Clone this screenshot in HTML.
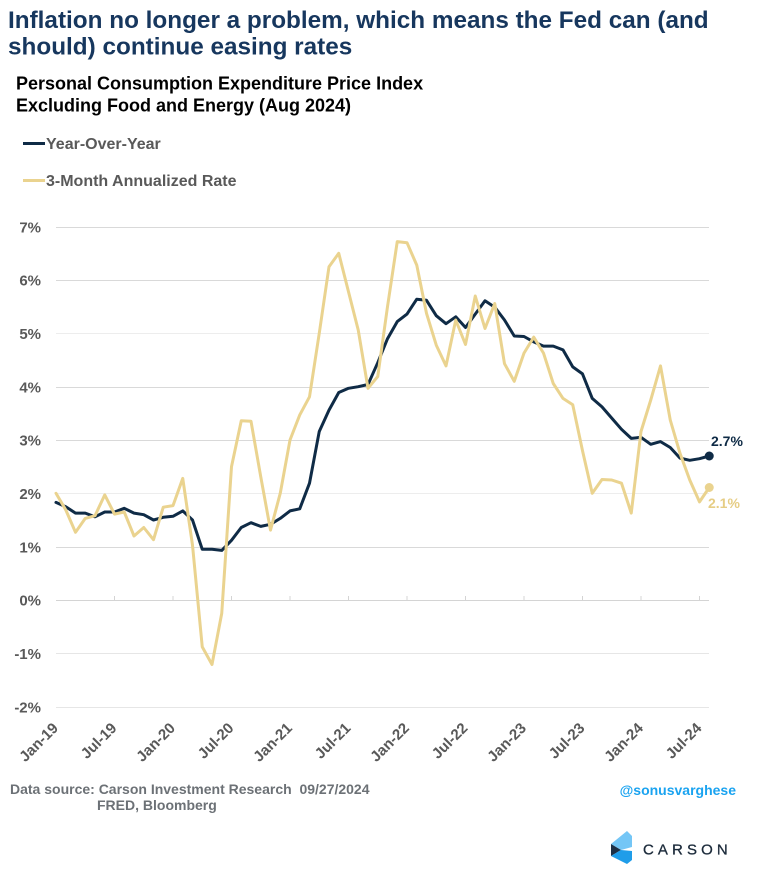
<!DOCTYPE html>
<html>
<head>
<meta charset="utf-8">
<style>
  html, body { margin: 0; padding: 0; background: #ffffff; }
  body { width: 757px; height: 880px; overflow: hidden; }
  svg { display: block; font-family: "Liberation Sans", Arial, sans-serif; }
</style>
</head>
<body>
<svg width="757" height="880" viewBox="0 0 757 880" xmlns="http://www.w3.org/2000/svg">
  <rect x="0" y="0" width="757" height="880" fill="#ffffff"/>

  <!-- Title -->
  <text x="8" y="28" font-size="24.3" font-weight="bold" fill="#17375e">Inflation no longer a problem, which means the Fed can (and</text>
  <text x="8" y="54.5" font-size="24.3" font-weight="bold" fill="#17375e">should) continue easing rates</text>

  <!-- Subtitle -->
  <text x="16" y="89.5" font-size="18" font-weight="bold" fill="#000000">Personal Consumption Expenditure Price Index</text>
  <text x="16" y="111.5" font-size="18" font-weight="bold" fill="#000000">Excluding Food and Energy (Aug 2024)</text>

  <!-- Legend -->
  <line x1="23" y1="143.5" x2="45" y2="143.5" stroke="#0f2b46" stroke-width="3"/>
  <text x="46" y="149" font-size="16" font-weight="bold" fill="#595959">Year-Over-Year</text>
  <line x1="23" y1="180.5" x2="45" y2="180.5" stroke="#ead38f" stroke-width="3"/>
  <text x="46" y="186" font-size="16" font-weight="bold" fill="#595959">3-Month Annualized Rate</text>

  <!-- Gridlines -->
  <g stroke-width="1">
    <line x1="56" y1="227.5" x2="709" y2="227.5" stroke="#d9d9d9"/>
    <line x1="56" y1="280.5" x2="709" y2="280.5" stroke="#d9d9d9"/>
    <line x1="56" y1="333.5" x2="709" y2="333.5" stroke="#ededed"/>
    <line x1="56" y1="387.5" x2="709" y2="387.5" stroke="#d9d9d9"/>
    <line x1="56" y1="440.5" x2="709" y2="440.5" stroke="#d9d9d9"/>
    <line x1="56" y1="493.5" x2="709" y2="493.5" stroke="#ededed"/>
    <line x1="56" y1="547.5" x2="709" y2="547.5" stroke="#d9d9d9"/>
    <line x1="56" y1="600.5" x2="709" y2="600.5" stroke="#d4d4d4"/>
    <line x1="56" y1="653.5" x2="709" y2="653.5" stroke="#e6e6e6"/>
    <line x1="56" y1="707.5" x2="709" y2="707.5" stroke="#e6e6e6"/>
  </g>

  <!-- Ticks on 0% axis -->
  <g stroke="#d4d4d4" stroke-width="1">
    <line x1="114.5" y1="596" x2="114.5" y2="600"/>
    <line x1="173" y1="596" x2="173" y2="600"/>
    <line x1="231.5" y1="596" x2="231.5" y2="600"/>
    <line x1="290" y1="596" x2="290" y2="600"/>
    <line x1="348.5" y1="596" x2="348.5" y2="600"/>
    <line x1="407" y1="596" x2="407" y2="600"/>
    <line x1="465.5" y1="596" x2="465.5" y2="600"/>
    <line x1="524" y1="596" x2="524" y2="600"/>
    <line x1="582.5" y1="596" x2="582.5" y2="600"/>
    <line x1="641" y1="596" x2="641" y2="600"/>
    <line x1="699.5" y1="596" x2="699.5" y2="600"/>
  </g>

  <!-- Y axis labels -->
  <g font-size="15" font-weight="bold" fill="#595959" text-anchor="end">
    <text x="41" y="232.5">7%</text>
    <text x="41" y="285.5">6%</text>
    <text x="41" y="339">5%</text>
    <text x="41" y="392.5">4%</text>
    <text x="41" y="445.5">3%</text>
    <text x="41" y="499">2%</text>
    <text x="41" y="552.5">1%</text>
    <text x="41" y="605.5">0%</text>
    <text x="41" y="659">-1%</text>
    <text x="41" y="712.5">-2%</text>
  </g>

  <!-- X axis labels -->
  <g font-size="15" font-weight="bold" fill="#595959" text-anchor="end">
    <text transform="translate(59,729) rotate(-45)">Jan-19</text>
    <text transform="translate(117.5,729) rotate(-45)">Jul-19</text>
    <text transform="translate(176,729) rotate(-45)">Jan-20</text>
    <text transform="translate(234.5,729) rotate(-45)">Jul-20</text>
    <text transform="translate(293,729) rotate(-45)">Jan-21</text>
    <text transform="translate(351.5,729) rotate(-45)">Jul-21</text>
    <text transform="translate(410,729) rotate(-45)">Jan-22</text>
    <text transform="translate(468.5,729) rotate(-45)">Jul-22</text>
    <text transform="translate(527,729) rotate(-45)">Jan-23</text>
    <text transform="translate(585.5,729) rotate(-45)">Jul-23</text>
    <text transform="translate(644,729) rotate(-45)">Jan-24</text>
    <text transform="translate(702.5,729) rotate(-45)">Jul-24</text>
  </g>

  <!-- Year-over-Year series -->
  <polyline fill="none" stroke="#0f2b46" stroke-width="3" stroke-linejoin="round" stroke-linecap="round"
    points="56,502.4 65.75,506.7 75.5,513.1 85.25,513.1 95,516.8 104.75,512 114.5,512 124.25,508.3 134,513.1 143.75,514.7 153.5,520 163.25,517.3 173,516.3 182.75,510.9 192.5,520 202.25,549.3 212,549.3 221.75,550.4 231.5,540.3 241.25,527.5 251,522.7 260.75,526.4 270.5,524.3 280.25,518.4 290,510.9 299.75,508.8 309.5,483.2 319.25,431.5 329,410.1 338.75,392.5 348.5,388.3 358.25,386.7 368,384.5 377.75,362.7 387.5,338.7 397.25,321.6 407,314.1 416.75,299.2 426.5,300.3 436.25,315.7 446,323.7 455.75,316.8 465.5,327.5 475.25,314.1 485,300.8 494.75,307.2 504.5,320 514.25,336 524,336.5 533.75,341.9 543.5,346.1 553.25,346.1 563,349.9 572.75,366.9 582.5,373.9 592.25,398.4 602,406.9 611.75,418.1 621.5,429.3 631.25,438.4 641,437.3 650.75,444.3 660.5,441.6 670.25,447.5 680,458.1 689.75,460.3 699.5,458.7 709.25,456"/>

  <!-- 3-Month Annualized series -->
  <polyline fill="none" stroke="#ead38f" stroke-width="3" stroke-linejoin="round" stroke-linecap="round"
    points="56,493.3 65.75,509.9 75.5,532.3 85.25,518.4 95,515.7 104.75,494.9 114.5,514.1 124.25,512 134,536 143.75,527.5 153.5,539.7 163.25,507.2 173,505.6 182.75,478.4 192.5,545.1 202.25,646.9 212,664.5 221.75,613.3 231.5,466.7 241.25,420.8 251,421.3 260.75,476.8 270.5,530.1 280.25,493.3 290,440 299.75,414.9 309.5,396.8 319.25,333.3 329,266.7 338.75,253.3 348.5,291.7 358.25,330.1 368,388.3 377.75,376.5 387.5,306.7 397.25,241.6 407,242.7 416.75,265.1 426.5,313.3 436.25,345.1 446,365.9 455.75,320 465.5,344.5 475.25,296 485,328.5 494.75,303.5 504.5,363.7 514.25,381.3 524,353.1 533.75,337.1 543.5,353.1 553.25,383.5 563,398.4 572.75,404.8 582.5,450.7 592.25,493.3 602,479.5 611.75,480 621.5,483.2 631.25,513.1 641,431.5 650.75,400 660.5,365.9 670.25,420 680,453.3 689.75,480 699.5,501.9 709.25,487.5"/>

  <!-- End markers and labels -->
  <circle cx="709.25" cy="456" r="4.5" fill="#0f2b46"/>
  <circle cx="709.25" cy="487.5" r="4.5" fill="#ead38f"/>
  <text x="711" y="446" font-size="14" font-weight="bold" fill="#0f2b46">2.7%</text>
  <text x="708" y="508" font-size="14" font-weight="bold" fill="#e6cd85">2.1%</text>

  <!-- Footer -->
  <text x="10" y="794" font-size="14" font-weight="bold" fill="#6c7176" xml:space="preserve">Data source: Carson Investment Research  09/27/2024</text>
  <text x="97" y="810" font-size="14" font-weight="bold" fill="#6c7176">FRED, Bloomberg</text>
  <text x="736" y="795" font-size="14" font-weight="bold" fill="#1aa3f0" text-anchor="end">@sonusvarghese</text>

  <!-- Carson logo -->
  <polygon points="627,831 632,836 632,847 621,850 611,844" fill="#74c6f6"/>
  <polygon points="611,844 621,850 611,856" fill="#1d3046"/>
  <polygon points="611,856 621,850 632,851 632,860 627,864" fill="#1f9de9"/>
  <text x="643" y="854.5" font-size="15" fill="#1c2b3b" stroke="#1c2b3b" stroke-width="0.3" letter-spacing="4.1">CARSON</text>
</svg>
</body>
</html>
